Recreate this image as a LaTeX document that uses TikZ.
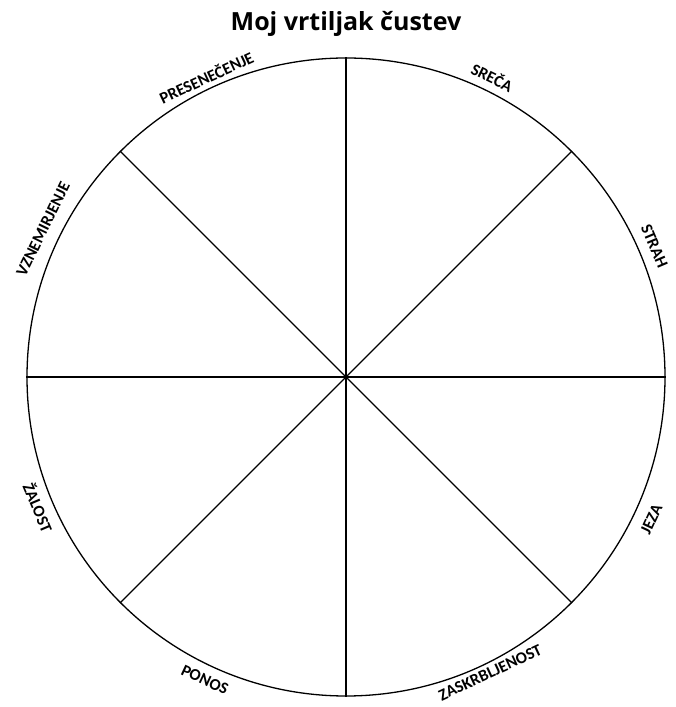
\documentclass[tikz,border=0pt]{standalone}
\usepackage{fontspec}
\setmainfont{Carlito}
\newfontfamily\headfont{Open Sans}
\usetikzlibrary{positioning}

\begin{document}
\begin{tikzpicture}[x=1pt, y=1pt, every node/.style={font=\bfseries}]
\tikzset{
    wheelline/.style={line width=1.3pt},
    spoke/.style={line width=1.1pt},
    feeling/.style={inner sep=0pt, font=\bfseries\fontsize{16.5}{16.5}\selectfont},
    titlenode/.style={inner sep=0pt, font=\headfont\bfseries\fontsize{25}{25}\selectfont}
}
\useasboundingbox (0,0) rectangle (675,707);

\node[titlenode] (title) at (346,683) {Moj vrtiljak čustev};

\node[draw, wheelline, circle, minimum size=638pt, inner sep=0pt] (wheel) at (346,330) {};
\draw[spoke] (wheel.north) -- (wheel.south);
\draw[spoke] (wheel.east) -- (wheel.west);
\draw[spoke] (wheel.45) -- (wheel.225);
\draw[spoke] (wheel.135) -- (wheel.315);

\node[feeling, rotate=25] (presenecenje) at ([shift={(115:331)}]wheel.center) {PRESENEČENJE};
\node[feeling, rotate=-26] (sreca) at ([shift={(64:334)}]wheel.center) {SREČA};
\node[feeling, rotate=-67] (strah) at ([shift={(23:335)}]wheel.center) {STRAH};
\node[feeling, rotate=65] (jeza) at ([shift={(-25:337)}]wheel.center) {JEZA};
\node[feeling, rotate=25] (zaskrbljenost) at ([shift={(-64:329)}]wheel.center) {ZASKRBLJENOST};
\node[feeling, rotate=-25] (ponos) at ([shift={(-115:334)}]wheel.center) {PONOS};
\node[feeling, rotate=-67] (zalost) at ([shift={(-157:334)}]wheel.center) {ŽALOST};
\node[feeling, rotate=64] (vznemirjenje) at ([shift={(154:337)}]wheel.center) {VZNEMIRJENJE};

\end{tikzpicture}
\end{document}
